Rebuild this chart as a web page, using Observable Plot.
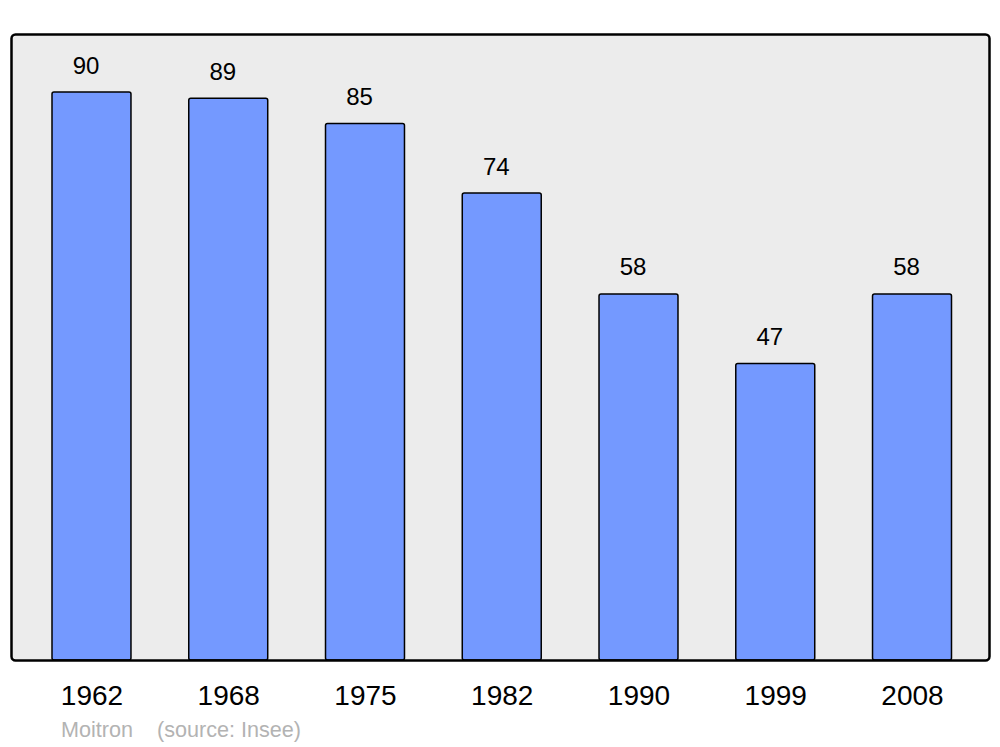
<!DOCTYPE html>
<html>
<head>
<meta charset="utf-8">
<script src="https://cdn.jsdelivr.net/npm/d3@7"></script>
<script src="https://cdn.jsdelivr.net/npm/@observablehq/plot@0.6"></script>
<style>
  html, body { margin: 0; padding: 0; background: #fff; }
  #wrap { position: relative; width: 1000px; height: 747px; font-family: "Liberation Sans", Arial, sans-serif; }
  #caption { position: absolute; left: 61px; top: 719px; font-size: 21.6px; line-height: 21px; color: #b3b3b3; white-space: pre; }
</style>
</head>
<body>
<div id="wrap"><div id="chart"></div><div id="caption">Moitron    (source: Insee)</div></div>
<script>
const years = ["1962", "1968", "1975", "1982", "1990", "1999", "2008"];
const population = [90, 89, 85, 74, 58, 47, 58];

const data = years.map((year, i) => ({year, value: population[i]}));

const chart = Plot.plot({
  width: 1000,
  height: 710,
  marginLeft: 11,
  marginRight: 11,
  marginTop: 34,
  marginBottom: 50,
  style: {fontFamily: "Liberation Sans, Arial, sans-serif", color: "black", background: "white"},
  x: {domain: years, range: [52, 951.5], paddingInner: 0.4225, paddingOuter: 0, round: false, label: null},
  y: {domain: [0, 99.2], range: [660, 34], axis: null},
  marks: [
    Plot.frame({fill: "#ececec", stroke: "none", rx: 4}),
    Plot.barY(data, {x: "year", y: "value", fill: "#7499ff", stroke: "black", strokeWidth: 1.5, rx: 2}),
    Plot.text(data, {x: "year", y: "value", text: d => String(d.value), lineAnchor: "bottom", dy: -19, dx: -6, fontSize: 24, fill: "black"}),
    Plot.axisX({tickSize: 0, tickPadding: 25, fontSize: 28, label: null, fill: "black"}),
    Plot.frame({fill: "none", stroke: "black", strokeWidth: 2.5, rx: 4})
  ]
});
document.getElementById("chart").appendChild(chart);
</script>
</body>
</html>
